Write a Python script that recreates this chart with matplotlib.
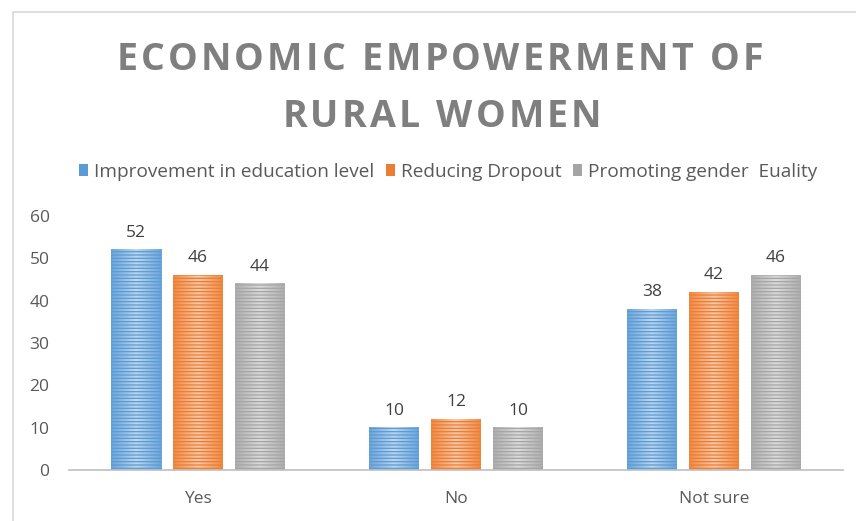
import matplotlib.pyplot as plt
import matplotlib.patches as mpatches
from matplotlib.colors import LinearSegmentedColormap, to_rgb
from matplotlib.font_manager import FontProperties
import numpy as np

# survey answers and counts per measure
answers = ['Yes', 'No', 'Not sure']
series = ['Improvement in education level', 'Reducing Dropout', 'Promoting gender  Euality']
education = [52, 10, 38]
dropout = [46, 12, 42]
equality = [44, 10, 46]

colors = ['#5b9bd5', '#ed7d31', '#a5a5a5']

plt.rcParams['font.family'] = ['Open Sans', 'DejaVu Sans']
plt.rcParams['hatch.linewidth'] = 0.9

W, H = 856, 521
fig = plt.figure(figsize=(W / 100, H / 100), dpi=100)
ax = fig.add_axes([69 / W, 1 - 470 / H, 774 / W, 254 / H])

# light frame round the chart area
fig.patches.append(mpatches.Rectangle((13 / W, -0.02), 1.0, 1 - 12 / H + 0.02,
                                      transform=fig.transFigure, fill=False,
                                      edgecolor='#d9d9d9', linewidth=1.2))


def lighter(c, f):
    r = np.array(to_rgb(c))
    return tuple(r + (1 - r) * f)


def spaced_text(s, xc, ypix, size, extra):
    # draw a title line with extra letter spacing (pixels)
    prop = FontProperties(family='Open Sans', weight='bold', size=size)
    rend = fig.canvas.get_renderer()
    wid = lambda t: rend.get_text_width_height_descent(t, prop, ismath=False)[0]
    total = wid(s) + extra * (len(s) - 1)
    x0 = xc - total / 2
    for i, ch in enumerate(s):
        if ch == ' ':
            continue
        xs = wid(s[:i + 1]) - wid(ch) + i * extra
        fig.text((x0 + xs) / W, 1 - ypix / H, ch, fontproperties=prop,
                 color='#7f7f7f', ha='left', va='baseline')


x = np.arange(len(answers))
width = 50 / 258
step = 62 / 258

for i, vals in enumerate([education, dropout, equality]):
    pos = x + (i - 1) * step
    cmap = LinearSegmentedColormap.from_list(
        'shade%d' % i, [lighter(colors[i], 0.1), lighter(colors[i], 0.6), lighter(colors[i], 0.1)])
    grad = np.linspace(0, 1, 64)[None, :]
    for p, v in zip(pos, vals):
        ax.imshow(grad, cmap=cmap, extent=(p - width / 2, p + width / 2, 0, v),
                  aspect='auto', zorder=2, interpolation='bilinear')
    ax.bar(pos, vals, width, facecolor='none', edgecolor=colors[i],
           linewidth=0, hatch='-----', zorder=3, label=series[i])
    for p, v in zip(pos, vals):
        ax.text(p, v + 3.1, str(v), ha='center', va='baseline',
                fontsize=12.5, color='#404040')

ax.set_xlim(-0.5, 2.5)
ax.set_ylim(0, 60)
ax.set_yticks(range(0, 61, 10))
ax.set_xticks(x)
ax.set_xticklabels(answers)
ax.tick_params(axis='both', length=0, labelsize=12.5, labelcolor='#595959')
ax.tick_params(axis='x', pad=15)
ax.tick_params(axis='y', pad=14)
for s in ['top', 'right', 'left']:
    ax.spines[s].set_visible(False)
ax.spines['bottom'].set_color('#bfbfbf')
ax.spines['bottom'].set_linewidth(1.2)

spaced_text('ECONOMIC EMPOWERMENT OF', 440, 70, 27, 3.2)
spaced_text('RURAL WOMEN', 442, 127, 27, 3.2)

handles = [mpatches.Patch(facecolor=c, edgecolor='none') for c in colors]
fig.legend(handles, series, loc='center', bbox_to_anchor=(448 / W, 1 - 172 / H),
           ncol=3, frameon=False, fontsize=13.7, labelcolor='#595959',
           handlelength=0.5, handleheight=0.6, handletextpad=0.3, columnspacing=0.6)

fig.savefig('out.png', dpi=100)
